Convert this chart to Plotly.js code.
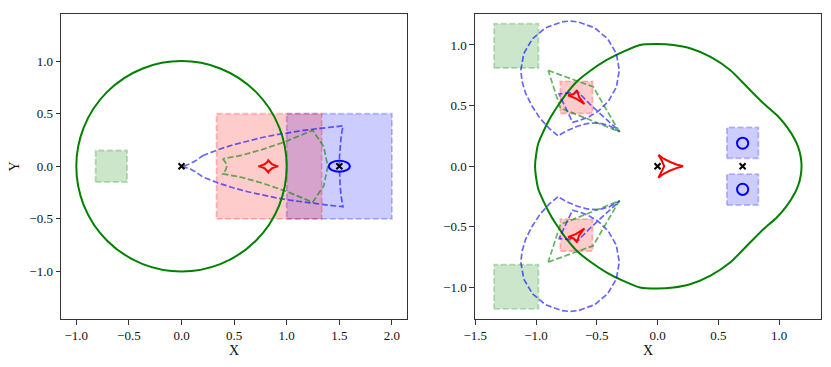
<!DOCTYPE html>
<html>
<head>
<meta charset="utf-8">
<script src="https://cdn.plot.ly/plotly-3.0.1.min.js"></script>
<style>html,body{margin:0;padding:0;background:#fff;}#chart{width:831px;height:367px;}</style>
</head>
<body>
<div id="chart"></div>
<script>
// ---------------- LEFT PANEL (wide binary) ----------------
const leftMassX = [0.0, 1.5];
const leftMassY = [0.0, 0.0];
const leftRing = [0.0, 0.0, 1.0];               // cx, cy, r (critical curve, primary)
const leftPlanetLoop = [1.5, 0.0, 0.1, 0.052];  // cx, cy, rx, ry (critical curve, planet)
const leftRedBox = [0.333, 1.333, -0.5, 0.5];   // x0, x1, y0, y1
const leftBlueBox = [1.0, 2.0, -0.5, 0.5];
const leftGreenBox = [-0.817, -0.517, -0.15, 0.15];

const leftBlueDashX = [0.2, 0.347, 0.49, 0.63, 0.767, 0.9, 1.031, 1.159, 1.284, 1.408, 1.535,
  1.517, 1.508, 1.502, 1.5, 1.502, 1.508, 1.517, 1.535,
  1.408, 1.284, 1.159, 1.031, 0.9, 0.767, 0.63, 0.49, 0.347, 0.2,
  0.138, 0.083, 0.0385, 0.01, 0.0, 0.01, 0.0385, 0.083, 0.138, 0.2];
const leftBlueDashY = [0.1, 0.158, 0.204, 0.242, 0.274, 0.3, 0.322, 0.341, 0.357, 0.371, 0.384,
  0.284, 0.188, 0.094, 0.0, -0.094, -0.188, -0.284, -0.384,
  -0.371, -0.357, -0.341, -0.322, -0.3, -0.274, -0.242, -0.204, -0.158, -0.1,
  -0.055, -0.025, -0.0077, -0.001, 0.0, 0.001, 0.0077, 0.025, 0.055, 0.1];

const leftGreenDashX = [0.392, 0.42, 0.43, 0.42, 0.392, 0.568, 0.765, 0.989, 1.247, 1.352, 1.39, 1.352, 1.247, 0.989, 0.765, 0.568, 0.392];
const leftGreenDashY = [0.072, 0.035, 0.0, -0.035, -0.072, -0.104, -0.159, -0.235, -0.342, -0.186, 0.0, 0.186, 0.342, 0.235, 0.159, 0.104, 0.072];

const leftCausticX = [0.920, 0.900, 0.859, 0.830, 0.825, 0.820, 0.791, 0.750, 0.730, 0.750, 0.791, 0.820, 0.825, 0.830, 0.859, 0.900, 0.920];
const leftCausticY = [0.0, 0.0032, 0.0202, 0.0449, 0.057, 0.0449, 0.0202, 0.0032, 0.0, -0.0032, -0.0202, -0.0449, -0.057, -0.0449, -0.0202, -0.0032, 0.0];

// ---------------- RIGHT PANEL (close binary) ----------------
const rightMassX = [0.0, 0.7];
const rightMassY = [0.0, 0.0];
const rightPlanetLoops = [[0.7, 0.19, 0.046], [0.7, -0.19, 0.046]]; // cx, cy, r
const rightGreenBoxes = [[-1.345, -0.98, 0.81, 1.175], [-1.345, -0.98, -1.175, -0.81]];
const rightRedBoxes = [[-0.80, -0.535, 0.435, 0.70], [-0.80, -0.535, -0.70, -0.435]];
const rightBlueBoxes = [[0.57, 0.83, 0.065, 0.32], [0.57, 0.83, -0.32, -0.065]];

const rightCritX = [1.185, 1.178, 1.16, 1.132, 1.063, 0.981, 0.871, 0.761, 0.597, 0.432, 0.267, 0.13, 0.0, -0.144, -0.281, -0.418, -0.556, -0.665, -0.748, -0.816, -0.885, -0.94, -0.981, -1.0, -1.008,
  -1.0, -0.981, -0.94, -0.885, -0.816, -0.748, -0.665, -0.556, -0.418, -0.281, -0.144, 0.0, 0.13, 0.267, 0.432, 0.597, 0.761, 0.871, 0.981, 1.063, 1.132, 1.16, 1.178, 1.185];
const rightCritY = [0.0, 0.078, 0.15, 0.216, 0.326, 0.422, 0.519, 0.629, 0.794, 0.904, 0.973, 1.0, 1.008, 1.0, 0.945, 0.876, 0.785, 0.697, 0.601, 0.505, 0.395, 0.285, 0.189, 0.09, 0.0,
  -0.09, -0.189, -0.285, -0.395, -0.505, -0.601, -0.697, -0.785, -0.876, -0.945, -1.0, -1.008, -1.0, -0.973, -0.904, -0.794, -0.629, -0.519, -0.422, -0.326, -0.216, -0.15, -0.078, 0.0];

const rightBlueUpX = [-0.82, -0.89, -0.967, -1.035, -1.085, -1.115, -1.125, -1.101, -1.030, -0.9225, -0.790, -0.72, -0.650, -0.5175, -0.410, -0.339, -0.315, -0.339, -0.405, -0.49, -0.57, -0.64, -0.70, -0.755, -0.81, -0.74, -0.65, -0.55, -0.43, -0.31, -0.40, -0.49, -0.58, -0.665, -0.745, -0.82];
const rightBlueUpY = [0.252, 0.31, 0.395, 0.50, 0.60, 0.70, 0.79, 0.929, 1.050, 1.141, 1.189, 1.197, 1.189, 1.141, 1.050, 0.929, 0.79, 0.651, 0.535, 0.452, 0.405, 0.378, 0.362, 0.478, 0.595, 0.603, 0.608, 0.505, 0.395, 0.285, 0.335, 0.358, 0.352, 0.328, 0.293, 0.252];
const rightBlueDownX = [-0.82, -0.89, -0.967, -1.035, -1.085, -1.115, -1.125, -1.101, -1.030, -0.9225, -0.790, -0.72, -0.650, -0.5175, -0.410, -0.339, -0.315, -0.339, -0.405, -0.49, -0.57, -0.64, -0.70, -0.755, -0.81, -0.74, -0.65, -0.55, -0.43, -0.31, -0.40, -0.49, -0.58, -0.665, -0.745, -0.82];
const rightBlueDownY = [-0.252, -0.31, -0.395, -0.50, -0.60, -0.70, -0.79, -0.929, -1.050, -1.141, -1.189, -1.197, -1.189, -1.141, -1.050, -0.929, -0.79, -0.651, -0.535, -0.452, -0.405, -0.378, -0.362, -0.478, -0.595, -0.603, -0.608, -0.505, -0.395, -0.285, -0.335, -0.358, -0.352, -0.328, -0.293, -0.252];

const rightGreenUpX = [-0.90, -0.53, -0.315, -0.80, -0.90];
const rightGreenUpY = [0.79, 0.655, 0.285, 0.48, 0.79];
const rightGreenDownX = [-0.90, -0.53, -0.315, -0.80, -0.90];
const rightGreenDownY = [-0.79, -0.655, -0.285, -0.48, -0.79];

const rightCausticUpX = [-0.737, -0.689, -0.663, -0.6456, -0.602, -0.669, -0.737];
const rightCausticUpY = [0.585, 0.595, 0.627, 0.5698, 0.513, 0.558, 0.585];
const rightCausticDownX = [-0.737, -0.689, -0.663, -0.6456, -0.602, -0.669, -0.737];
const rightCausticDownY = [-0.585, -0.595, -0.627, -0.5698, -0.513, -0.558, -0.585];
const rightCentralX = [0.007, 0.05, 0.10, 0.155, 0.21, 0.155, 0.10, 0.05, 0.007, 0.035, 0.055, 0.035, 0.007];
const rightCentralY = [0.095, 0.062, 0.037, 0.015, 0.0, -0.015, -0.037, -0.062, -0.095, -0.045, 0.0, 0.045, 0.095];

// tick labels
const leftXTicks = [-1.0, -0.5, 0.0, 0.5, 1.0, 1.5, 2.0];
const leftYTicks = [-1.0, -0.5, 0.0, 0.5, 1.0];
const rightXTicks = [-1.5, -1.0, -0.5, 0.0, 0.5, 1.0];
const rightYTicks = [-1.0, -0.5, 0.0, 0.5, 1.0];

// ---------------- build ----------------
const DASH = '6px,2.6px';
function box(b, rgb, xa, ya) {
  return {x: [b[0], b[1], b[1], b[0], b[0]], y: [b[2], b[2], b[3], b[3], b[2]],
    xaxis: xa, yaxis: ya, mode: 'lines', fill: 'toself',
    fillcolor: 'rgba(' + rgb + ',0.2)',
    line: {color: 'rgba(' + rgb + ',0.25)', width: 1.8, dash: DASH}, hoverinfo: 'skip'};
}
function curve(x, y, color, dash, xa, ya) {
  return {x: x, y: y, xaxis: xa, yaxis: ya, mode: 'lines', line: {color: color, width: dash ? 1.7 : 2, dash: dash || 'solid', shape: dash ? 'linear' : 'spline', smoothing: 0.6}, hoverinfo: 'skip'};
}
function poly(x, y, color, xa, ya) {
  return {x: x, y: y, xaxis: xa, yaxis: ya, mode: 'lines', line: {color: color, width: 2}, hoverinfo: 'skip'};
}
function marks(x, y, xa, ya) {
  return {x: x, y: y, xaxis: xa, yaxis: ya, mode: 'markers',
    marker: {symbol: 'x-thin', size: 6, color: 'black', line: {width: 2, color: 'black'}}, hoverinfo: 'skip'};
}
const BLUED = 'rgba(0,0,255,0.6)', GREEND = 'rgba(0,128,0,0.6)';
const traces = [
  box(leftBlueBox, '0,0,255', 'x', 'y'),
  box(leftRedBox, '255,0,0', 'x', 'y'),
  box(leftGreenBox, '0,128,0', 'x', 'y'),
  curve(leftBlueDashX, leftBlueDashY, BLUED, DASH, 'x', 'y'),
  curve(leftGreenDashX, leftGreenDashY, GREEND, DASH, 'x', 'y'),
  poly(leftCausticX, leftCausticY, 'red', 'x', 'y'),
  marks(leftMassX, leftMassY, 'x', 'y')
];
rightGreenBoxes.forEach(b => traces.push(box(b, '0,128,0', 'x2', 'y2')));
rightRedBoxes.forEach(b => traces.push(box(b, '255,0,0', 'x2', 'y2')));
rightBlueBoxes.forEach(b => traces.push(box(b, '0,0,255', 'x2', 'y2')));
traces.push(curve(rightCritX, rightCritY, 'green', null, 'x2', 'y2'));
traces.push(curve(rightBlueUpX, rightBlueUpY, BLUED, DASH, 'x2', 'y2'));
traces.push(curve(rightBlueDownX, rightBlueDownY, BLUED, DASH, 'x2', 'y2'));
traces.push(curve(rightGreenUpX, rightGreenUpY, GREEND, DASH, 'x2', 'y2'));
traces.push(curve(rightGreenDownX, rightGreenDownY, GREEND, DASH, 'x2', 'y2'));
traces.push(poly(rightCausticUpX, rightCausticUpY, 'red', 'x2', 'y2'));
traces.push(poly(rightCausticDownX, rightCausticDownY, 'red', 'x2', 'y2'));
traces.push(poly(rightCentralX, rightCentralY, 'red', 'x2', 'y2'));
traces.push(marks(rightMassX, rightMassY, 'x2', 'y2'));

const shapes = [
  {type: 'circle', xref: 'x', yref: 'y', x0: leftRing[0] - leftRing[2], x1: leftRing[0] + leftRing[2],
   y0: leftRing[1] - leftRing[2], y1: leftRing[1] + leftRing[2], line: {color: 'green', width: 2}, layer: 'above'},
  {type: 'circle', xref: 'x', yref: 'y', x0: leftPlanetLoop[0] - leftPlanetLoop[2], x1: leftPlanetLoop[0] + leftPlanetLoop[2],
   y0: leftPlanetLoop[1] - leftPlanetLoop[3], y1: leftPlanetLoop[1] + leftPlanetLoop[3], line: {color: 'blue', width: 2}, layer: 'above'}
];
rightPlanetLoops.forEach(c => shapes.push({type: 'circle', xref: 'x2', yref: 'y2',
  x0: c[0] - c[2], x1: c[0] + c[2], y0: c[1] - c[2], y1: c[1] + c[2], line: {color: 'blue', width: 2}, layer: 'above'}));

const FONT = {family: 'Liberation Serif, serif', size: 13, color: '#111'};
function axis(extra) {
  return Object.assign({showgrid: false, zeroline: false, showline: true, mirror: true, linecolor: '#333', linewidth: 1,
    ticks: 'outside', ticklen: 4.5, tickwidth: 1, tickcolor: '#333', tickformat: '.1f', tickfont: FONT, automargin: false}, extra);
}
const TFONT = {family: 'Liberation Serif, serif', size: 14, color: '#111'};
const layout = {
  width: 831, height: 367, margin: {l: 61, r: 10, t: 14, b: 48},
  paper_bgcolor: 'white', plot_bgcolor: 'white', showlegend: false, font: FONT,
  xaxis: axis({domain: [0, 0.4553], range: [-1.1454, 2.1436], anchor: 'y', tickvals: leftXTicks,
    title: {text: 'X', font: TFONT, standoff: 2}}),
  yaxis: axis({domain: [0, 1], range: [-1.4515, 1.4477], anchor: 'x', tickvals: leftYTicks,
    title: {text: 'Y', font: TFONT, standoff: 6}}),
  xaxis2: axis({domain: [0.5447, 1.0], range: [-1.5025, 1.345], anchor: 'y2', tickvals: rightXTicks,
    title: {text: 'X', font: TFONT, standoff: 2}}),
  yaxis2: axis({domain: [0, 1], range: [-1.259, 1.255], anchor: 'x2', tickvals: rightYTicks}),
  shapes: shapes
};
Plotly.newPlot('chart', traces, layout, {staticPlot: true, displayModeBar: false});
</script>
</body>
</html>
